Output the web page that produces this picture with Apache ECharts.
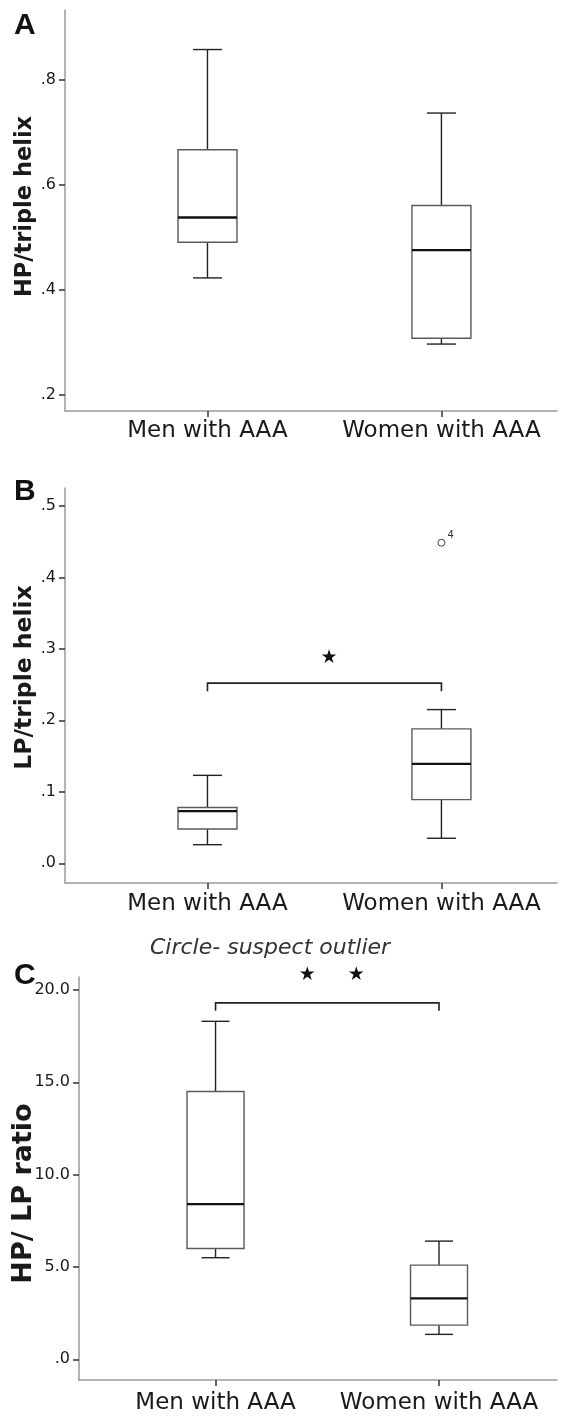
<!DOCTYPE html>
<html><head><meta charset="utf-8">
<script src="https://cdn.jsdelivr.net/npm/echarts@6/dist/echarts.min.js"></script>
<style>html,body{margin:0;padding:0;background:#fff}#c{width:581px;height:1419px}</style>
</head><body><div id="c"></div>
<script>
// ---------------- DATA ----------------
const categories = ['Men with AAA', 'Women with AAA'];
// box statistics: [min, Q1, median, Q3, max]
// Panel A: HP/triple helix
const hpTripleMen   = [0.423, 0.491, 0.538, 0.667, 0.858];
const hpTripleWomen = [0.297, 0.308, 0.476, 0.561, 0.737];
const ticksA = [0.2, 0.4, 0.6, 0.8];
// Panel B: LP/triple helix
const lpTripleMen   = [0.026, 0.048, 0.073, 0.078, 0.123];
const lpTripleWomen = [0.035, 0.089, 0.139, 0.188, 0.215];
const ticksB = [0, 0.1, 0.2, 0.3, 0.4, 0.5];
const outliersB = [[2, 0.4485, '4']];      // [category position, value, case label]
const bracketB = [[1, 2, 0.252]];           // [from category, to category, level]
const starsB = [[1.52, 0.287]];
// Panel C: HP/LP ratio
const ratioMen   = [5.5, 6.0, 8.4, 14.5, 18.3];
const ratioWomen = [1.35, 1.85, 3.3, 5.1, 6.4];
const ticksC = [0, 5, 10, 15, 20];
const bracketC = [[1, 2, 19.3]];
const starsC = [[1.41, 20.8], [1.63, 20.8]];

// ---------------- LAYOUT ----------------
const panels = [
  { grid: {left: 65, top: 10, right: 24, bottom: 1008}, x: [0.391, 2.494], y: [0.1695, 0.9333],
    ticks: ticksA, name: 'HP/triple helix', nameSize: 22.5, nameGap: 28, namePad: [0, 0, 0, 8], xMargin: 9,
    box: 59, cap: 29, stats: [hpTripleMen, hpTripleWomen] },
  { grid: {left: 65, top: 488, right: 24, bottom: 536}, x: [0.391, 2.494], y: [-0.0276, 0.525],
    ticks: ticksB, name: 'LP/triple helix', nameSize: 23.5, nameGap: 28, namePad: [0, 0, 0, 16], xMargin: 10,
    box: 59, cap: 29, stats: [lpTripleMen, lpTripleWomen] },
  { grid: {left: 79, top: 977, right: 24, bottom: 39}, x: [0.389, 2.528], y: [-1.12, 20.7],
    ticks: ticksC, name: 'HP/ LP ratio', nameSize: 27, nameGap: 42, namePad: [0, 30, 0, 0], xMargin: 12,
    box: 57, cap: 28, stats: [ratioMen, ratioWomen] }
];

const tickFmt = v => v.toFixed(1).replace(/^0\./, '.');
const AXIS_GRAY = '#9a9a9a';
const INK = '#1a1a1a';

const grids = [], xAxes = [], yAxes = [], series = [];
panels.forEach((p, i) => {
  grids.push(Object.assign({containLabel: false, outerBoundsMode: 'none'}, p.grid));
  xAxes.push({
    type: 'value', gridIndex: i, min: p.x[0], max: p.x[1],
    axisLine: {show: true, onZero: false, lineStyle: {color: AXIS_GRAY, width: 1.5}},
    axisTick: {show: true, customValues: [1, 2], length: 6, lineStyle: {color: '#333', width: 1.5}},
    axisLabel: {customValues: [1, 2], formatter: v => categories[Math.round(v) - 1], margin: p.xMargin,
      fontFamily: 'DejaVu Sans', fontSize: 23, color: INK},
    splitLine: {show: false}
  });
  yAxes.push({
    type: 'value', gridIndex: i, min: p.y[0], max: p.y[1],
    name: p.name, nameLocation: 'middle', nameGap: p.nameGap, nameRotate: 90, nameMoveOverlap: false,
    nameTextStyle: {fontFamily: 'DejaVu Sans', fontWeight: 'bold', fontSize: p.nameSize, color: INK, padding: p.namePad},
    axisLine: {show: true, onZero: false, lineStyle: {color: AXIS_GRAY, width: 1.5}},
    axisTick: {show: true, customValues: p.ticks, length: 6, lineStyle: {color: '#333', width: 1.5}},
    axisLabel: {customValues: p.ticks, formatter: tickFmt, margin: 9,
      fontFamily: 'DejaVu Sans', fontSize: 16, color: INK},
    splitLine: {show: false}
  });
  series.push({
    type: 'custom', xAxisIndex: i, yAxisIndex: i, clip: false,
    data: p.stats.map((s, k) => [k + 1].concat(s)),
    renderItem: (params, api) => {
      const x = api.value(0);
      const c = v => api.coord([x, api.value(v)]);
      const pMin = c(1), pQ1 = c(2), pMed = c(3), pQ3 = c(4), pMax = c(5);
      const hw = p.box / 2, cw = p.cap / 2, cx = pMed[0];
      const wl = {stroke: '#222', lineWidth: 1.4};
      return {type: 'group', children: [
        {type: 'line', shape: {x1: cx, y1: pQ3[1], x2: cx, y2: pMax[1]}, style: wl},
        {type: 'line', shape: {x1: cx, y1: pQ1[1], x2: cx, y2: pMin[1]}, style: wl},
        {type: 'line', shape: {x1: cx - cw, y1: pMax[1], x2: cx + cw, y2: pMax[1]}, style: wl},
        {type: 'line', shape: {x1: cx - cw, y1: pMin[1], x2: cx + cw, y2: pMin[1]}, style: wl},
        {type: 'rect', shape: {x: cx - hw, y: pQ3[1], width: 2 * hw, height: pQ1[1] - pQ3[1]},
          style: {fill: '#fff', stroke: '#5a5a5a', lineWidth: 1.4}},
        {type: 'line', shape: {x1: cx - hw, y1: pMed[1], x2: cx + hw, y2: pMed[1]},
          style: {stroke: '#111', lineWidth: 2.4}}
      ]};
    }
  });
});

function bracketSeries(idx, data) {
  return {
    type: 'custom', xAxisIndex: idx, yAxisIndex: idx, clip: false, data,
    renderItem: (params, api) => {
      const a = api.coord([api.value(0), api.value(2)]);
      const b = api.coord([api.value(1), api.value(2)]);
      const drop = 8;
      return {type: 'polyline', shape: {points: [[a[0], a[1] + drop], [a[0], a[1]], [b[0], b[1]], [b[0], b[1] + drop]]},
        style: {stroke: '#222', lineWidth: 1.6, fill: null}};
    }
  };
}
function starSeries(idx, data) {
  return {
    type: 'custom', xAxisIndex: idx, yAxisIndex: idx, clip: false, data,
    renderItem: (params, api) => {
      const q = api.coord([api.value(0), api.value(1)]);
      return {type: 'text', x: q[0], y: q[1],
        style: {text: '\u2605', fontFamily: 'DejaVu Sans', fontSize: 19, align: 'center', verticalAlign: 'middle', fill: '#111'}};
    }
  };
}
series.push(bracketSeries(1, bracketB), starSeries(1, starsB));
series.push(bracketSeries(2, bracketC), starSeries(2, starsC));
series.push({
  type: 'scatter', xAxisIndex: 1, yAxisIndex: 1, data: outliersB,
  symbol: 'circle', symbolSize: 7,
  itemStyle: {color: '#fff', borderColor: '#444', borderWidth: 1, opacity: 1},
  label: {show: true, position: 'right', offset: [-3, -7], formatter: q => q.value[2],
    fontFamily: 'DejaVu Sans', fontSize: 10, color: '#333'}
});

const letterStyle = {fontFamily: 'Liberation Sans', fontWeight: 'bold', fontSize: 30, fill: '#111'};
const option = {
  animation: false,
  backgroundColor: '#fff',
  grid: grids, xAxis: xAxes, yAxis: yAxes, series,
  graphic: [
    {type: 'text', left: 14, top: 11, style: Object.assign({text: 'A'}, letterStyle)},
    {type: 'text', left: 14, top: 477, style: Object.assign({text: 'B'}, letterStyle)},
    {type: 'text', left: 14, top: 961, style: Object.assign({text: 'C'}, letterStyle)},
    {type: 'text', left: 150, top: 937, style: {text: 'Circle- suspect outlier', fontFamily: 'DejaVu Sans',
      fontStyle: 'italic', fontSize: 22, fill: '#333'}}
  ]
};
const chart = echarts.init(document.getElementById('c'), null, {renderer: 'canvas'});
chart.setOption(option);
</script>
</body></html>
